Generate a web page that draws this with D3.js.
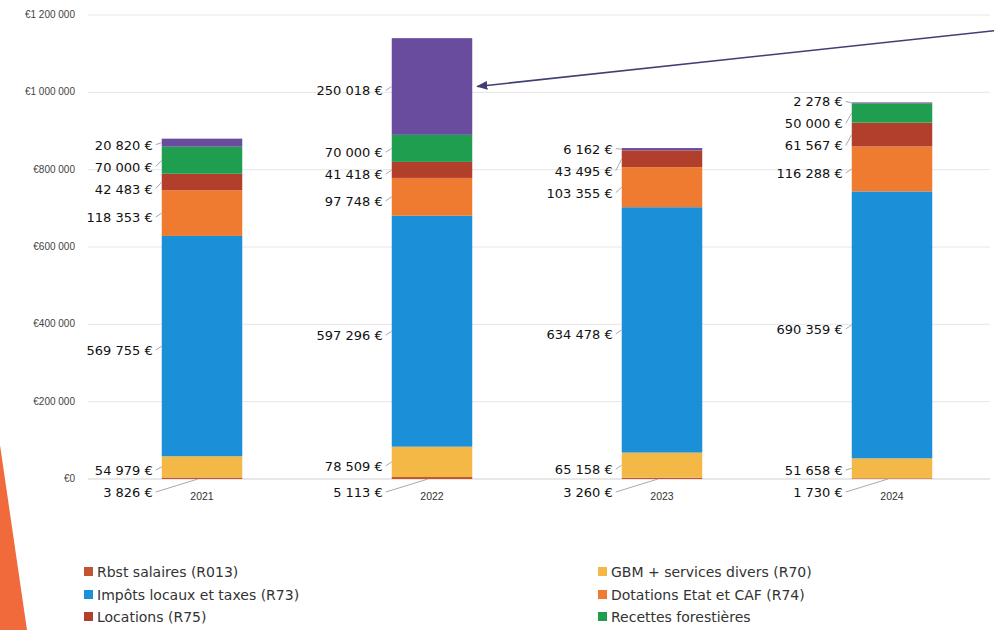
<!DOCTYPE html>
<html><head><meta charset="utf-8">
<script src="https://cdn.jsdelivr.net/npm/d3@7"></script>
<style>
body{margin:0;background:#fff;}
svg{display:block;font-family:"DejaVu Sans",Verdana,sans-serif;}
</style></head>
<body><svg id="c" width="994" height="630"></svg>
<script>
const years = ["2021","2022","2023","2024"];
const seriesNames = ["Rbst salaires (R013)","GBM + services divers (R70)","Impôts locaux et taxes (R73)","Dotations Etat et CAF (R74)","Locations (R75)","Recettes forestières","Autres"];
const seriesColors = ["#c2542f","#f3b846","#1b8fd8","#ee7b30","#b23e2c","#1f9e4f","#6a4c9e"];
const rbst      = [3826, 5113, 3260, 1730];
const gbm       = [54979, 78509, 65158, 51658];
const impots    = [569755, 597296, 634478, 690359];
const dotations = [118353, 97748, 103355, 116288];
const locations = [42483, 41418, 43495, 61567];
const forest    = [70000, 70000, 0, 50000];
const autres    = [20820, 250018, 6162, 2278];
const yTicks = [0,200000,400000,600000,800000,1000000,1200000];
const yTickLabels = ["€0","€200 000","€400 000","€600 000","€800 000","€1 000 000","€1 200 000"];

const seriesValues = [rbst,gbm,impots,dotations,locations,forest,autres];
const svg = d3.select("#c");
const W = 994, H = 630;

// decorative orange swoosh
svg.append("path").attr("d","M0,445 L27,630 L0,630 Z").attr("fill","#f06a3c");

const x = d3.scaleBand().domain(years).range([87,1007]).paddingInner(0.65).paddingOuter(0.325);
const y = d3.scaleLinear().domain([0,1200000]).range([479,15]);

// grid
svg.append("g").selectAll("line").data(yTicks).join("line")
  .attr("x1",88).attr("x2",990).attr("y1",d=>y(d)).attr("y2",d=>y(d))
  .attr("stroke",(d)=>d===0?"#d0d0d0":"#e6e6e6").attr("stroke-width",1);
svg.append("g").selectAll("text").data(yTicks).join("text")
  .attr("x",75).attr("y",d=>y(d)+3).attr("text-anchor","end").attr("font-size",10).attr("fill","#444")
  .attr("font-family","'Liberation Sans',Arial,sans-serif")
  .text((d,i)=>yTickLabels[i]);

// stacks
const table = years.map((yr,i)=>{const o={year:yr}; seriesNames.forEach((s,k)=>o[s]=seriesValues[k][i]); return o;});
const stack = d3.stack().keys(seriesNames)(table);
const bw = x.bandwidth();
stack.forEach((layer,k)=>{
  svg.append("g").attr("fill",seriesColors[k]).selectAll("rect").data(layer).join("rect")
    .attr("x",d=>x(d.data.year)).attr("width",bw)
    .attr("y",d=>y(d[1])).attr("height",d=>Math.max(0,y(d[0])-y(d[1])));
});

// x labels
svg.append("g").selectAll("text").data(years).join("text")
  .attr("x",d=>x(d)+bw/2).attr("y",500).attr("text-anchor","middle")
  .attr("font-size",10.5).attr("fill","#333").attr("font-family","'Liberation Sans',Arial,sans-serif").text(d=>d);

// value labels with collision avoidance
const fmt = v => d3.format(",")(v).replace(/,/g," ") + " €";
years.forEach((yr,i)=>{
  const items=[];
  stack.forEach((layer,k)=>{
    const d=layer[i]; const v=d[1]-d[0];
    if(v<=0) return;
    items.push({v, mid:(y(d[0])+y(d[1]))/2, ly:(y(d[0])+y(d[1]))/2 + 4, k});
  });
  items.sort((a,b)=>a.mid-b.mid);
  const gap=22;
  const last=items[items.length-1];
  if(y(0)-last.mid<6) last.ly = y(0)+13;
  for(let it=0;it<200;it++){
    for(let j=1;j<items.length;j++){
      const a=items[j-1], b=items[j];
      const ov = gap-(b.ly-a.ly);
      if(ov>0){ if(j===items.length-1 && b.ly>y(0)){a.ly-=ov;} else {a.ly-=ov*0.35; b.ly+=ov*0.65;} }
    }
  }
  const bx = x(yr);
  const g = svg.append("g");
  items.forEach(it=>{
    const tx = bx-7;
    const inside = it.ly<=y(0);
    g.append("path")
      .attr("d",`M${tx+1},${it.ly} L${inside?bx:bx+bw*0.45},${inside?it.mid:y(0)}`)
      .attr("stroke","#aaa").attr("fill","none").attr("stroke-width",1);
    g.append("text").attr("x",tx-2).attr("y",it.ly+5).attr("text-anchor","end")
      .attr("font-size",13).attr("fill","#111").text(fmt(it.v));
  });
});

// arrow annotation
const defs = svg.append("defs");
defs.append("marker").attr("id","ah").attr("viewBox","0 0 10 10").attr("refX",9).attr("refY",5)
  .attr("markerWidth",7).attr("markerHeight",7).attr("orient","auto")
  .append("path").attr("d","M0,1 L10,5 L0,9 Z").attr("fill","#3f3f75");
const pd = stack[6][1];
svg.append("line")
  .attr("x1",W+2).attr("y1",y(1160000))
  .attr("x2",x("2022")+bw+5).attr("y2",(y(pd[0])+y(pd[1]))/2)
  .attr("stroke","#3f3f75").attr("stroke-width",1.6).attr("marker-end","url(#ah)");

// legend: [series, column, row]
const legCols=[82,596], legRows=[572,595,617];
const legendItems=[[0,0,0],[2,0,1],[4,0,2],[1,1,0],[3,1,1],[5,1,2]];
const lg=svg.append("g");
legendItems.forEach(([k,c,r])=>{
  lg.append("rect").attr("x",legCols[c]+2).attr("y",legRows[r]-5).attr("width",9).attr("height",9).attr("fill",seriesColors[k]);
  lg.append("text").attr("x",legCols[c]+15).attr("y",legRows[r]+5).attr("font-size",14).attr("fill","#333").text(seriesNames[k]);
});
</script></body></html>
